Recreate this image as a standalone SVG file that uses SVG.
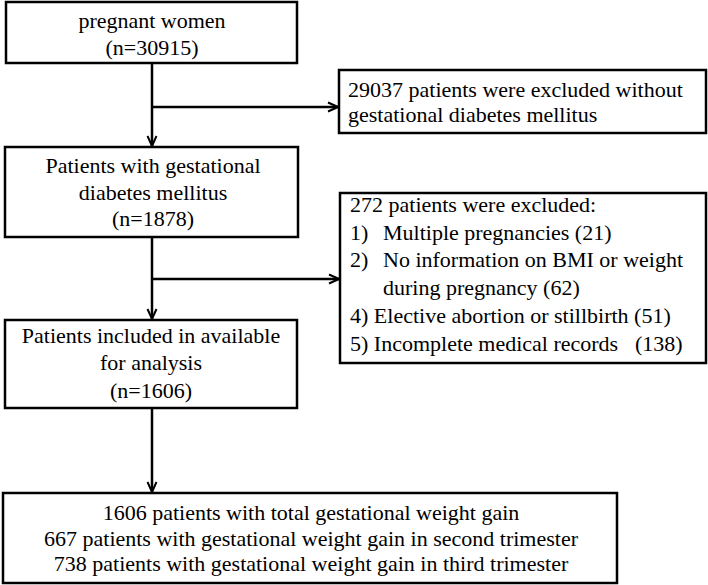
<svg xmlns="http://www.w3.org/2000/svg" width="708" height="585" viewBox="0 0 708 585">
<defs>
<marker id="ah" markerWidth="12" markerHeight="12" viewBox="0 0 12 12" refX="11" refY="6" orient="auto" markerUnits="userSpaceOnUse">
<path d="M1,1.5 L11,6 L1,10.5" fill="none" stroke="#000" stroke-width="2"/>
</marker>
</defs>
<rect width="708" height="585" fill="#fff"/>
<g id="connectors" fill="none" stroke="#000" stroke-width="2.5">
<line x1="152" y1="63" x2="152" y2="146" marker-end="url(#ah)"/>
<line x1="152" y1="107" x2="338" y2="107" marker-end="url(#ah)"/>
<line x1="152" y1="237" x2="152" y2="319" marker-end="url(#ah)"/>
<line x1="152" y1="279" x2="339" y2="279" marker-end="url(#ah)"/>
<line x1="152" y1="408" x2="152" y2="492" marker-end="url(#ah)"/>
</g>
<g style="font-family:'Liberation Serif','DejaVu Serif','Noto Serif','Times New Roman',serif" font-size="22" fill="#000">
<g id="n1">
<rect x="6" y="2" width="291" height="61" fill="#fff" stroke="#000" stroke-width="2.5"/>
<text text-anchor="middle" x="152" y="28">pregnant women</text>
<text text-anchor="middle" x="152" y="55">(n=30915)</text>
</g>
<g id="n2">
<rect x="339" y="70" width="367" height="63" fill="#fff" stroke="#000" stroke-width="2.5"/>
<text x="348" y="97">29037 patients were excluded without</text>
<text x="348" y="122">gestational diabetes mellitus</text>
</g>
<g id="n3">
<rect x="5" y="147" width="293" height="90" fill="#fff" stroke="#000" stroke-width="2.5"/>
<text text-anchor="middle" x="153" y="173">Patients with gestational</text>
<text text-anchor="middle" x="153" y="200">diabetes mellitus</text>
<text text-anchor="middle" x="153" y="226">(n=1878)</text>
</g>
<g id="n4">
<rect x="340" y="193" width="366" height="170" fill="#fff" stroke="#000" stroke-width="2.5"/>
<text x="350" y="212">272 patients were excluded:</text>
<text x="350" y="240">1)</text><text x="383" y="240">Multiple pregnancies (21)</text>
<text x="350" y="267">2)</text><text x="383" y="267">No information on BMI or weight</text>
<text x="383" y="295">during pregnancy (62)</text>
<text x="350" y="323">4) Elective abortion or stillbirth (51)</text>
<text x="350" y="351">5) Incomplete medical records</text><text x="635" y="351">(138)</text>
</g>
<g id="n5">
<rect x="5" y="320" width="292" height="88" fill="#fff" stroke="#000" stroke-width="2.5"/>
<text text-anchor="middle" x="151" y="343">Patients included in available</text>
<text text-anchor="middle" x="151" y="370">for analysis</text>
<text text-anchor="middle" x="151" y="398">(n=1606)</text>
</g>
<g id="n6">
<rect x="3" y="493" width="614" height="90" fill="#fff" stroke="#000" stroke-width="2.5"/>
<text text-anchor="middle" x="311" y="520">1606 patients with total gestational weight gain</text>
<text text-anchor="middle" x="311" y="546">667 patients with gestational weight gain in second trimester</text>
<text text-anchor="middle" x="311" y="571">738 patients with gestational weight gain in third trimester</text>
</g>
</g>
</svg>
